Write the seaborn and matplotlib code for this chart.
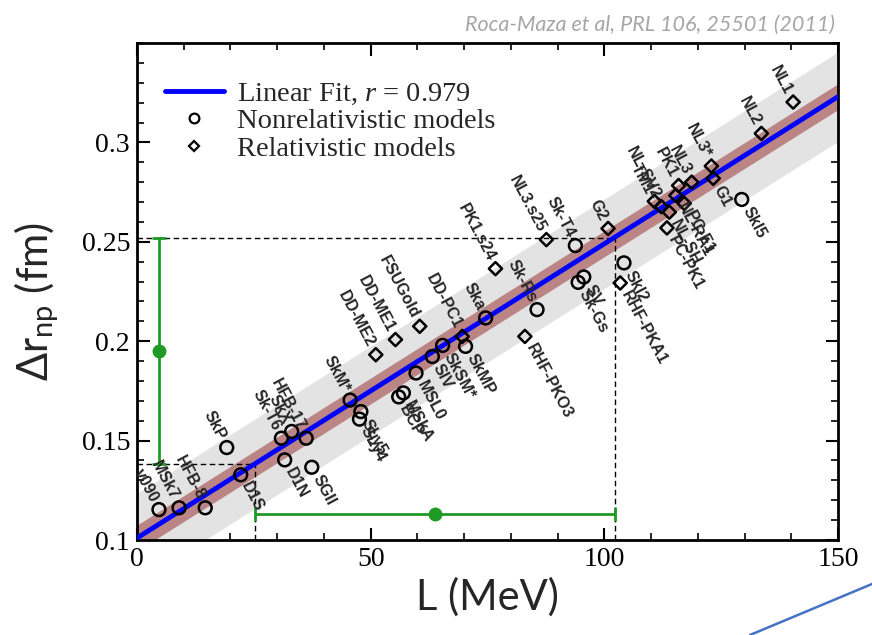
import numpy as np
import matplotlib
matplotlib.use("Agg")
import matplotlib.pyplot as plt
from matplotlib.lines import Line2D
from matplotlib.ticker import MultipleLocator, FixedLocator
import seaborn as sns

# ---- data -----------------------------------------------------------------
nonrel_models = ["v090", "MSk7", "HFB-8", "D1S", "SkP", "Sk-T6", "SkX", "HFB-17",
                 "D1N", "SGII", "SkM*", "SLy5", "SLy4", "MSkA", "BCP", "MSL0",
                 "SIV", "SkSM*", "SkMP", "Ska", "Sk-Rs", "Sk-T4", "SV", "Sk-Gs",
                 "SkI2", "SkI5"]
nonrel_L = [4.7, 9.0, 14.6, 22.2, 19.2, 30.9, 33.1, 36.2,
            31.6, 37.4, 45.6, 47.9, 47.6, 57.0, 56.0, 59.7,
            63.2, 65.4, 70.3, 74.6, 85.6, 93.8, 95.6, 94.4,
            104.2, 129.4]
nonrel_dr = [0.1153, 0.1162, 0.1162, 0.1328, 0.1465, 0.1512, 0.1546, 0.1512,
             0.1403, 0.1366, 0.1704, 0.1646, 0.1608, 0.1740, 0.1720, 0.1840,
             0.1923, 0.1979, 0.1974, 0.2117, 0.2159, 0.2481, 0.2323, 0.2296,
             0.2394, 0.2713]

rel_models = ["DD-ME2", "DD-ME1", "FSUGold", "DD-PC1", "PK1.s24", "RHF-PKO3",
              "NL3.s25", "G2", "RHF-PKA1", "TM1", "NL-SV2", "PC-PK1", "NL-SH",
              "PC-F1", "NL-RA1", "PK1", "NL3", "NL3*", "G1", "NL2", "NL1"]
rel_L = [51.1, 55.3, 60.5, 69.6, 76.7, 83.0,
         87.6, 100.8, 103.4, 110.7, 112.2, 113.4, 113.9,
         117.1, 115.3, 115.9, 118.7, 122.9, 123.3, 133.6, 140.4]
rel_dr = [0.1932, 0.2008, 0.2075, 0.2024, 0.2365, 0.2024,
          0.2511, 0.2567, 0.2293, 0.2704, 0.2677, 0.2570, 0.2649,
          0.2693, 0.2733, 0.2783, 0.2800, 0.2881, 0.2819, 0.3045, 0.3203]

# label side for each model: "a" = above-left of the marker, "b" = below-right
nonrel_side = ["a", "a", "a", "b", "a", "a", "a", "a",
               "b", "b", "a", "b", "b", "b", "b", "b",
               "b", "b", "b", "a", "a", "a", "b", "b",
               "b", "b"]
rel_side = ["a", "a", "a", "a", "a", "b",
            "a", "a", "b", "a", "a", "b", "b",
            "b", "b", "a", "a", "a", "b", "a", "a"]

# linear fit  Δr_np = a + b L  and its bands
fit_intercept = 0.101
fit_slope = 0.00148
fit_r = 0.979
fit_L = [0, 150]
conf_halfwidth = 0.0065
pred_halfwidth = 0.0225

# constraint on L from a Δr_np window, and vice versa
dr_center, dr_err = 0.1952, 0.0569
L_center, L_err = 63.7, 38.5
dr_marker_L = 4.8
L_marker_dr = 0.1131

x_ticks = [0, 50, 100, 150]
y_ticks = [0.1, 0.15, 0.2, 0.25, 0.3]
y_tick_labels = ["0.1", "0.15", "0.2", "0.25", "0.3"]

# ---- style ------------------------------------------------------------------
sns.set_style("ticks")
plt.rcParams["font.family"] = ["Liberation Serif", "DejaVu Serif"]
plt.rcParams["mathtext.fontset"] = "custom"
plt.rcParams["mathtext.rm"] = "Liberation Serif"
plt.rcParams["mathtext.it"] = "Liberation Serif:italic"
plt.rcParams["mathtext.sf"] = "Lato"

fig = plt.figure(figsize=(8.72, 6.35), dpi=100)
ax = fig.add_axes([137 / 872, 95 / 635, 701 / 872, 497 / 635])

fit_L_arr = np.array(fit_L, dtype=float)
fit_dr = fit_intercept + fit_slope * fit_L_arr

ax.fill_between(fit_L_arr, fit_dr - pred_halfwidth, fit_dr + pred_halfwidth,
                color="#e3e3e3", lw=0, zorder=1)
ax.fill_between(fit_L_arr, fit_dr - conf_halfwidth, fit_dr + conf_halfwidth,
                color="#bb8585", lw=0, zorder=2)
sns.lineplot(x=fit_L_arr, y=fit_dr, color="#0000ff", lw=3.5, ax=ax, zorder=3)

# dashed guides from the Δr_np window to the fit line
dr_lo, dr_hi = dr_center - dr_err, dr_center + dr_err
L_lo, L_hi = L_center - L_err, L_center + L_err
dash = dict(color="black", lw=1.0, ls=(0, (4, 2.5)), zorder=2.5)
ax.plot([0, L_lo], [dr_lo, dr_lo], **dash)
ax.plot([L_lo, L_lo], [0.1, dr_lo], **dash)
ax.plot([0, L_hi], [dr_hi, dr_hi], **dash)
ax.plot([L_hi, L_hi], [0.1, dr_hi], **dash)

green = "#1f9a24"
ax.errorbar([dr_marker_L], [dr_center], yerr=[dr_err], fmt="o", color=green,
            ms=9, elinewidth=2, capsize=5, capthick=2, zorder=5)
ax.errorbar([L_center], [L_marker_dr], xerr=[L_err], fmt="o", color=green,
            ms=9, elinewidth=2, capsize=5, capthick=2, zorder=5)

sns.scatterplot(x=nonrel_L, y=nonrel_dr, marker="o", s=85, facecolor="none",
                edgecolor="black", linewidth=1.8, ax=ax, zorder=6)
sns.scatterplot(x=rel_L, y=rel_dr, marker="D", s=45, facecolor="none",
                edgecolor="black", linewidth=1.8, ax=ax, zorder=6)

# rotated model names
angle = -62
gap = 7.0
ux, uy = np.cos(np.radians(angle)), np.sin(np.radians(angle))
label_kw = dict(textcoords="offset points", rotation=angle,
                rotation_mode="anchor", va="center", fontsize=11.5,
                fontweight="bold", family="Liberation Sans", zorder=7)
for names, Ls, drs, sides in ((nonrel_models, nonrel_L, nonrel_dr, nonrel_side),
                              (rel_models, rel_L, rel_dr, rel_side)):
    for n, x, y, s in zip(names, Ls, drs, sides):
        if s == "a":
            ax.annotate(n, (x, y), xytext=(-ux * gap, -uy * gap), ha="right",
                        **label_kw)
        else:
            ax.annotate(n, (x, y), xytext=(ux * gap, uy * gap), ha="left",
                        **label_kw)

# axes
ax.set_xlim(0, 150)
ax.set_ylim(0.1, 0.35)
ax.xaxis.set_major_locator(FixedLocator(x_ticks))
ax.xaxis.set_minor_locator(MultipleLocator(10))
ax.yaxis.set_major_locator(FixedLocator(y_ticks))
ax.set_yticklabels(y_tick_labels)
ax.yaxis.set_minor_locator(MultipleLocator(0.01))
ax.tick_params(which="both", direction="in", top=True, right=True,
               labelsize=20, width=1.5, colors="black")
ax.tick_params(which="major", length=9, pad=5)
ax.tick_params(which="minor", length=5, width=1.2)
for sp in ax.spines.values():
    sp.set_linewidth(2)
    sp.set_color("black")

ax.set_xlabel("L (MeV)", fontsize=30, family=["Lato", "DejaVu Sans"], labelpad=4)
ax.set_ylabel(r"Δr$_{\mathsf{np}}$ (fm)", fontsize=30,
              family=["Lato", "DejaVu Sans"])
ax.yaxis.set_label_coords(-0.108, 0.48)

handles = [
    Line2D([], [], color="#0000ff", lw=3.5),
    Line2D([], [], marker="o", ls="", mfc="none", mec="black", ms=7, mew=1.6),
    Line2D([], [], marker="D", ls="", mfc="none", mec="black", ms=5, mew=1.6),
]
labels = [r"Linear Fit, $r$ = " + f"{fit_r}", "Nonrelativistic models",
          "Relativistic models"]
ax.legend(handles, labels, loc="upper left", bbox_to_anchor=(0.015, 0.958),
          frameon=False, fontsize=20.5, handlelength=2.1, handletextpad=0.45,
          labelspacing=0.05, borderaxespad=0.2)

fig.text(835 / 872, 1 - 25 / 635, "Roca-Maza et al, PRL 106, 25501 (2011)",
         ha="right", va="center", color="#a6a6a6", style="italic",
         fontsize=15.5, family=["Lato", "DejaVu Sans"])

# slide accent stroke in the lower-right corner
fig.add_artist(Line2D([750 / 872, 1.0], [0.0, 51 / 635], color="#4472c4",
                      lw=1.8, transform=fig.transFigure))

fig.savefig("out.png", dpi=100)
